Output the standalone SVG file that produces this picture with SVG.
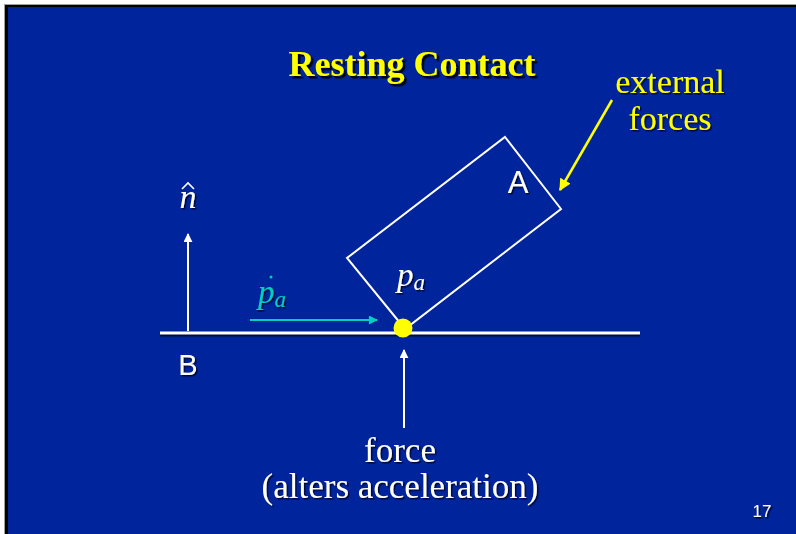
<svg xmlns="http://www.w3.org/2000/svg" width="796" height="534" viewBox="0 0 796 534">
<defs>
<filter id="sh" x="-10%" y="-20%" width="130%" height="150%">
<feDropShadow dx="2.5" dy="2.5" stdDeviation="0.4" flood-color="#000000" flood-opacity="0.9"/>
</filter>
<filter id="shl" x="-10%" y="-20%" width="130%" height="150%">
<feDropShadow dx="1.5" dy="1.5" stdDeviation="0.3" flood-color="#000020" flood-opacity="0.8"/>
</filter>
<marker id="aw" viewBox="0 0 10 10" refX="9" refY="5" markerWidth="9" markerHeight="9" markerUnits="userSpaceOnUse" orient="auto">
<path d="M0,0 L10,5 L0,10 z" fill="#ffffff"/>
</marker>
<marker id="ac" viewBox="0 0 10 10" refX="9" refY="5" markerWidth="11" markerHeight="9" markerUnits="userSpaceOnUse" orient="auto">
<path d="M0,0 L10,5 L0,10 z" fill="#00d0c0"/>
</marker>
<marker id="ay" viewBox="0 0 10 10" refX="9" refY="5" markerWidth="12" markerHeight="12" markerUnits="userSpaceOnUse" orient="auto">
<path d="M0,0 L10,5 L0,10 z" fill="#ffff00"/>
</marker>
</defs>
<style>
.serif{font-family:"Liberation Serif","Times New Roman",serif}
.sans{font-family:"Liberation Sans",Arial,sans-serif}
.w{fill:#ffffff}
.y{fill:#ffff00}
.ln{stroke:#ffffff;stroke-width:2;fill:none}
</style>
<rect x="0" y="0" width="796" height="534" fill="#ffffff"/>
<rect x="4" y="4" width="792" height="530" fill="#a0a0a0"/>
<rect x="5" y="5" width="791" height="529" fill="#000000"/>
<rect x="8" y="7" width="788" height="527" fill="#00249c"/>

<g id="title"><text x="412" y="76" text-anchor="middle" class="serif y" font-size="36" font-weight="bold" filter="url(#sh)">Resting Contact</text></g>

<g id="ground">
<line x1="160" y1="335" x2="640" y2="335" stroke="#00103a" stroke-width="3"/>
<line x1="160" y1="333" x2="640" y2="333" stroke="#ffffff" stroke-width="3"/>
<text x="188" y="375" text-anchor="middle" class="sans w" font-size="29" filter="url(#shl)">B</text>
</g>

<g id="blockA">
<polygon points="505,137 561,209 405,329 347,258" class="ln"/>
<text x="518" y="193" text-anchor="middle" class="sans w" font-size="31" filter="url(#shl)">A</text>
</g>

<g id="contact">
<circle cx="403" cy="328" r="9.5" fill="#ffff00"/>
<text x="397" y="286" class="serif w" font-size="33" font-style="italic" filter="url(#shl)">p<tspan font-size="23" dy="4">a</tspan></text>
</g>

<g id="normal">
<text x="188" y="208" text-anchor="middle" class="serif w" font-size="34" font-style="italic" filter="url(#shl)">n</text>
<polyline points="182,189 188,183 194,189" fill="none" stroke="#ffffff" stroke-width="1.6"/>
</g>

<g id="velocity">
<text x="258" y="303" class="serif" fill="#00d0c0" font-size="33" font-style="italic" filter="url(#shl)">p<tspan font-size="23" dy="4">a</tspan></text>
<circle cx="271" cy="277" r="1.5" fill="#00d0c0"/>
</g>

<g id="extforces">
<text x="670" y="93" text-anchor="middle" class="serif y" font-size="34" filter="url(#shl)">external</text>
<text x="670" y="130" text-anchor="middle" class="serif y" font-size="34" filter="url(#shl)">forces</text>
</g>

<g id="forcelabel">
<text x="400" y="462" text-anchor="middle" class="serif w" font-size="35" filter="url(#shl)">force</text>
<text x="400" y="498" text-anchor="middle" class="serif w" font-size="35" filter="url(#shl)">(alters acceleration)</text>
</g>

<g id="pagenum"><text x="762" y="517" text-anchor="middle" class="sans w" font-size="17" filter="url(#shl)">17</text></g>

<g id="connectors">
<line x1="188" y1="331" x2="188" y2="234" class="ln" marker-end="url(#aw)"/>
<line x1="404" y1="428" x2="404" y2="350" class="ln" marker-end="url(#aw)"/>
<line x1="250" y1="320" x2="377" y2="320" stroke="#00d0c0" stroke-width="2" marker-end="url(#ac)"/>
<line x1="612" y1="100" x2="560" y2="190" stroke="#ffff00" stroke-width="2.5" marker-end="url(#ay)"/>
</g>
</svg>
